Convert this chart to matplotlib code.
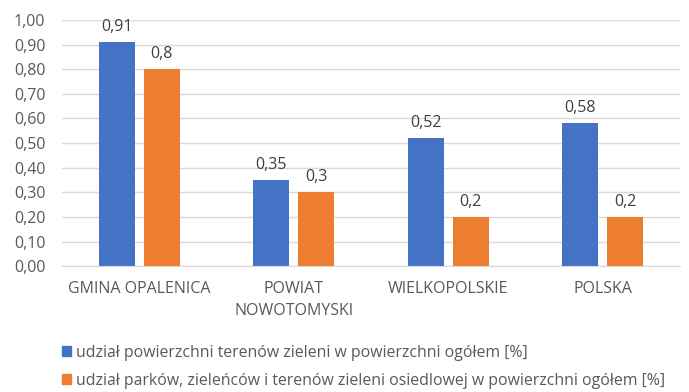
import numpy as np
import matplotlib.pyplot as plt
from matplotlib.patches import Patch

categories = ["GMINA OPALENICA", "POWIAT\nNOWOTOMYSKI", "WIELKOPOLSKIE", "POLSKA"]
green_share = [0.91, 0.35, 0.52, 0.58]
park_share = [0.8, 0.3, 0.2, 0.2]
green_labels = ["0,91", "0,35", "0,52", "0,58"]
park_labels = ["0,8", "0,3", "0,2", "0,2"]
series_names = [
    "udział powierzchni terenów zieleni w powierzchni ogółem [%]",
    "udział parków, zieleńców i terenów zieleni osiedlowej w powierzchni ogółem [%]",
]

BLUE = "#4472c4"
ORANGE = "#ed7d31"
TEXT = "#595959"

plt.rcParams['font.family'] = ['Open Sans', 'DejaVu Sans']

fig = plt.figure(figsize=(6.89, 3.92), dpi=100)
ax = fig.add_axes([0.09, 0.321, 0.897, 0.628])

x = np.arange(len(categories))
w = 0.233
off = 0.145
b1 = ax.bar(x - off, green_share, w, color=BLUE)
b2 = ax.bar(x + off, park_share, w, color=ORANGE)

for bars, labels in ((b1, green_labels), (b2, park_labels)):
    for bar, lab in zip(bars, labels):
        ax.annotate(lab, (bar.get_x() + bar.get_width() / 2, bar.get_height()),
                    xytext=(0, 5), textcoords="offset points",
                    ha="center", va="bottom", fontsize=11.5, color="#404040")

ax.set_xlim(-0.5, 3.5)
ax.set_ylim(0, 1.0)
ax.set_yticks(np.arange(0, 1.01, 0.1))
ax.set_yticklabels([f"{v:.2f}".replace(".", ",") for v in np.arange(0, 1.01, 0.1)])
ax.set_xticks(x)
ax.set_xticklabels(categories, linespacing=1.45)
ax.tick_params(axis="both", length=0, labelsize=11.5, colors=TEXT)
ax.tick_params(axis="x", pad=11)
ax.tick_params(axis="y", pad=12)

ax.yaxis.grid(True, color="#d9d9d9", linewidth=1)
ax.set_axisbelow(True)
for s in ("top", "right", "left"):
    ax.spines[s].set_visible(False)
ax.spines["bottom"].set_color("#d9d9d9")

handles = [Patch(color=BLUE), Patch(color=ORANGE)]
fig.legend(handles, series_names, loc="upper left", bbox_to_anchor=(0.078, 0.14),
           frameon=False, fontsize=11.4, labelcolor=TEXT, handlelength=0.6,
           handleheight=0.6, handletextpad=0.3, labelspacing=0.75, borderpad=0)

fig.savefig("out.png", dpi=100)
